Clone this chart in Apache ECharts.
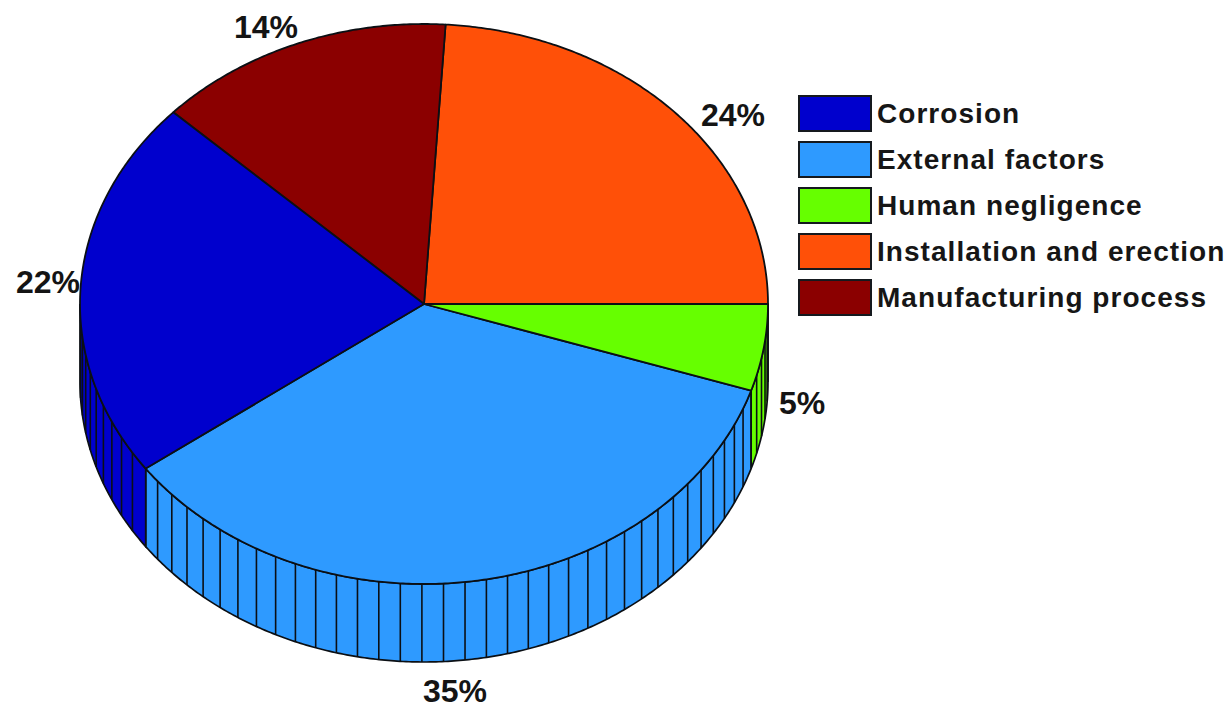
<!DOCTYPE html>
<html>
<head>
<meta charset="utf-8">
<style>html,body{margin:0;padding:0;background:#fff}#c{width:1230px;height:708px}
#c text[style*="28px"]{letter-spacing:1.05px}</style>
<script src="https://cdn.jsdelivr.net/npm/echarts@6/dist/echarts.min.js"></script>
</head>
<body>
<div id="c"></div>
<script>
var categories = ['Corrosion', 'External factors', 'Human negligence', 'Installation and erection', 'Manufacturing process'];
var shares = [22, 35, 5, 24, 14];
var colors = ['#0000CD', '#2E9AFF', '#66FF00', '#FF5008', '#8B0000'];

// label centres, pixels, same order as categories
var labelX = [48, 455, 802, 733, 266];
var labelY = [282, 691, 403, 115, 27];

// drawing geometry
var cx = 424, cy = 304, rx = 344, ry = 280, depth = 78;
var firstStart = 223.2;    // clockwise-from-east angle where the first category starts
var stripePhase = 0.35;
var edge = '#0b0f14';

function pt(t, dy) {
  var a = t * Math.PI / 180;
  return [cx + rx * Math.cos(a), cy + ry * Math.sin(a) + (dy || 0)];
}
function arc(a, b, dy) {
  var out = [], n = Math.max(2, Math.ceil(Math.abs(b - a) * 2));
  for (var i = 0; i <= n; i++) out.push(pt(a + (b - a) * i / n, dy));
  return out;
}
var total = shares.reduce(function (s, v) { return s + v; }, 0);
var spans = [], acc = firstStart;
shares.forEach(function (v) {
  var end = acc - v / total * 360;   // runs counter-clockwise in legend order
  spans.push([end, acc]);
  acc = end;
});

function makeRender(idx) {
  return function (params, api) {
    var hi = spans[idx][1], lo = spans[idx][0], children = [];
    var color = api.visual('color');
    // visible wall: the front half, 0..180 degrees (angles taken modulo 360)
    [0, -360].forEach(function (off) {
      var a = Math.max(lo + off + 0, 0), b = Math.min(hi + off, 180);
      if (b <= a) return;
      var wall = arc(a, b, 0).concat(arc(b, a, depth));
      children.push({ type: 'polygon', z2: 1, shape: { points: wall },
        style: { fill: color, stroke: edge, lineWidth: 1.7 } });
      for (var k = 0; k * 3.6 + stripePhase < 180; k++) {
        var t = k * 3.6 + stripePhase;
        if (t > a + 1 && t < b - 1) {
          var p = pt(t, 0), q = pt(t, depth);
          children.push({ type: 'line', z2: 2, shape: { x1: p[0], y1: p[1], x2: q[0], y2: q[1] },
            style: { stroke: edge, lineWidth: 1.6 } });
        }
      }
    });
    // top face
    var top = [[cx, cy]].concat(arc(lo, hi, 0));
    children.push({ type: 'polygon', z2: 3, shape: { points: top },
      style: { fill: color, stroke: edge, lineWidth: 1.8, lineJoin: 'round' } });
    if (idx === 1) {
      children.push({ type: 'line', z2: 4, shape: { x1: cx, y1: cy, x2: cx, y2: cy + 68 },
        style: { lineWidth: 1.2, stroke: new echarts.graphic.LinearGradient(0, 0, 0, 1, [
          { offset: 0, color: 'rgba(20,60,110,0.75)' }, { offset: 1, color: 'rgba(20,60,110,0.05)' }], false) } });
    }
    children.push({ type: 'text', z2: 10, style: {
      x: labelX[idx], y: labelY[idx], text: api.value(0) + '%', fill: '#141414',
      font: 'bold 32px "Liberation Sans", Arial, sans-serif', align: 'center', verticalAlign: 'middle' } });
    return { type: 'group', children: children };
  };
}

var series = categories.map(function (name, i) {
  return {
    type: 'custom', name: name, coordinateSystem: 'none',
    itemStyle: { color: colors[i] },
    data: [[shares[i]]], renderItem: makeRender(i), silent: true, clip: false,
    z: i === 0 ? 5 : 2
  };
});

var chart = echarts.init(document.getElementById('c'), null, { renderer: 'svg' });
chart.setOption({
  animation: false,
  backgroundColor: '#ffffff',
  legend: {
    show: true, orient: 'vertical', left: 798, top: 95, padding: 0,
    itemWidth: 72, itemHeight: 35, itemGap: 9, icon: 'rect',
    selectedMode: false, data: categories,
    itemStyle: { borderColor: '#15191e', borderWidth: 2 },
    textStyle: { fontFamily: '"Liberation Sans", Arial, sans-serif', fontSize: 28, fontWeight: 'bold', color: '#161616', padding: [8, 0, 0, 1], lineHeight: 28 }
  },
  series: series
});
</script>
</body>
</html>
